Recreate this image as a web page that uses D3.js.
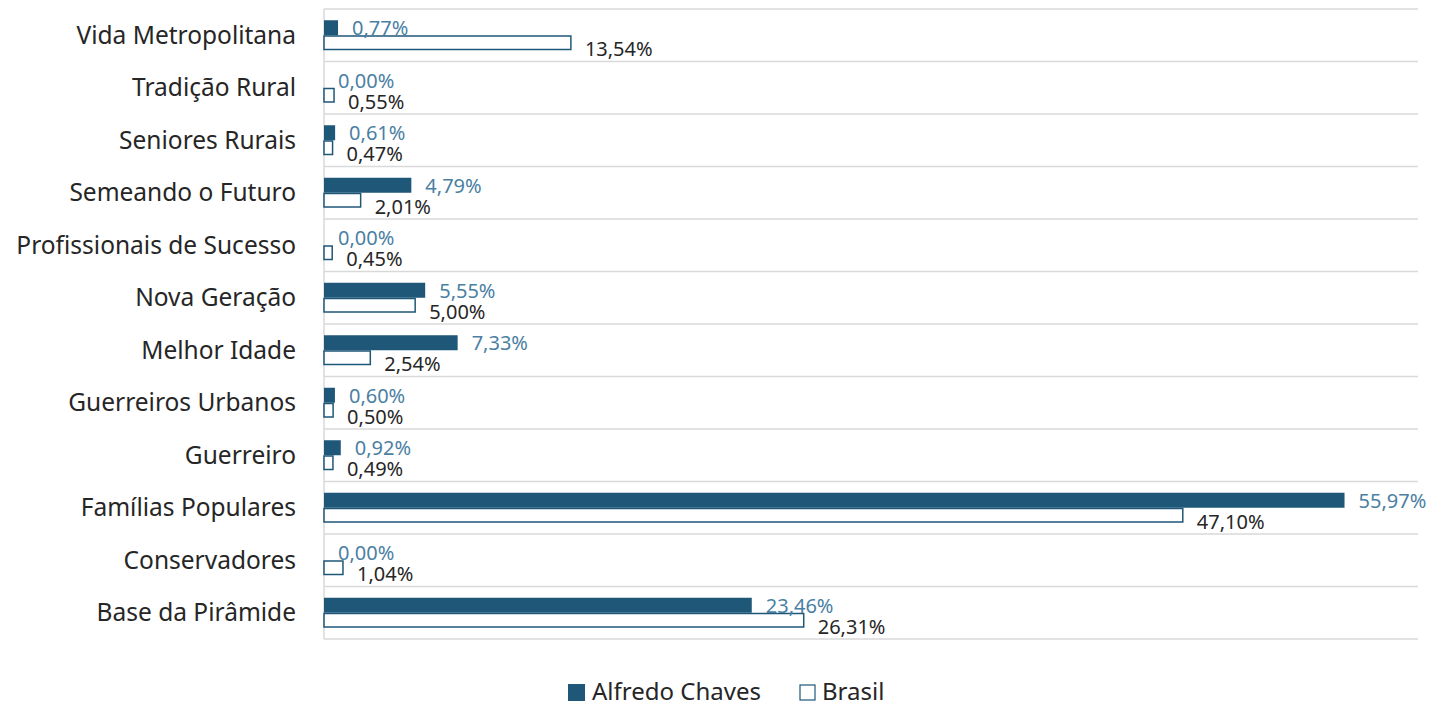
<!DOCTYPE html>
<html>
<head>
<meta charset="utf-8">
<script src="https://cdn.jsdelivr.net/npm/d3@7"></script>
<style>
  body { margin: 0; background: #fff; }
  text { font-family: "Noto Sans", "Open Sans", sans-serif; }
</style>
</head>
<body>
<script>
// categorias e valores (%)
const categorias = ["Vida Metropolitana", "Tradição Rural", "Seniores Rurais", "Semeando o Futuro",
  "Profissionais de Sucesso", "Nova Geração", "Melhor Idade", "Guerreiros Urbanos", "Guerreiro",
  "Famílias Populares", "Conservadores", "Base da Pirâmide"]
const alfredoChaves = [0.77, 0.00, 0.61, 4.79, 0.00, 5.55, 7.33, 0.60, 0.92, 55.97, 0.00, 23.46]
const brasil = [13.54, 0.55, 0.47, 2.01, 0.45, 5.00, 2.54, 0.50, 0.49, 47.10, 1.04, 26.31]
const series = ["Alfredo Chaves", "Brasil"]

const width = 1432
const height = 705
const margin = { top: 9, bottom: 66, left: 324, right: 14 }
const azul = "#1f5778"
const azulTexto = "#4b7fa3"

const fmt = v => v.toFixed(2).replace(".", ",") + "%"

const svg = d3.select("body").append("svg")
  .attr("width", width)
  .attr("height", height)

const x = d3.scaleLinear().domain([0, 60]).range([margin.left, width - margin.right])
const y = d3.scaleBand().domain(categorias).range([margin.top, height - margin.bottom])

// linhas de grade horizontais
const linhas = categorias.map(c => y(c)).concat([y.range()[1]])
svg.append("g").selectAll("line")
  .data(linhas)
  .enter().append("line")
  .attr("x1", margin.left).attr("x2", width - margin.right)
  .attr("y1", d => d).attr("y2", d => d)
  .attr("stroke", "#d9d9d9").attr("stroke-width", 1.5)

// eixo vertical
svg.append("line")
  .attr("x1", margin.left).attr("x2", margin.left)
  .attr("y1", margin.top).attr("y2", height - margin.bottom)
  .attr("stroke", "#d9d9d9").attr("stroke-width", 1.5)

// rótulos das categorias
svg.append("g").selectAll("text")
  .data(categorias)
  .enter().append("text")
  .attr("x", 296)
  .attr("y", d => y(d) + y.bandwidth() / 2)
  .attr("dy", "0.35em")
  .attr("text-anchor", "end")
  .attr("font-size", 24.5)
  .attr("fill", "#262626")
  .text(d => d)

const barH = 15
const meio = c => y(c) + y.bandwidth() / 2

// barras Alfredo Chaves (preenchidas)
svg.append("g").selectAll("rect")
  .data(categorias)
  .enter().append("rect")
  .attr("x", x(0))
  .attr("y", c => meio(c) - barH)
  .attr("width", (c, i) => x(alfredoChaves[i]) - x(0))
  .attr("height", barH)
  .attr("fill", azul)

// barras Brasil (contorno)
svg.append("g").selectAll("rect")
  .data(categorias)
  .enter().append("rect")
  .attr("x", x(0))
  .attr("y", c => meio(c) + 0.75)
  .attr("width", (c, i) => x(brasil[i]) - x(0))
  .attr("height", barH - 1.5)
  .attr("fill", "#fff")
  .attr("stroke", azul)
  .attr("stroke-width", 1.5)

// rótulos de dados
svg.append("g").selectAll("text")
  .data(categorias)
  .enter().append("text")
  .attr("x", (c, i) => x(alfredoChaves[i]) + 14)
  .attr("y", c => meio(c) - 7)
  .attr("dy", "0.35em")
  .attr("font-size", 20)
  .attr("fill", azulTexto)
  .text((c, i) => fmt(alfredoChaves[i]))

svg.append("g").selectAll("text")
  .data(categorias)
  .enter().append("text")
  .attr("x", (c, i) => x(brasil[i]) + 14)
  .attr("y", c => meio(c) + 14)
  .attr("dy", "0.35em")
  .attr("font-size", 20)
  .attr("fill", "#262626")
  .text((c, i) => fmt(brasil[i]))

// legenda
const leg = svg.append("g").attr("transform", "translate(568,692)")
leg.append("rect").attr("x", 0).attr("y", -8).attr("width", 17).attr("height", 17).attr("fill", azul)
leg.append("text").attr("x", 24).attr("y", 0).attr("dy", "0.35em").attr("font-size", 24).attr("fill", "#262626").text(series[0])
leg.append("rect").attr("x", 232).attr("y", -7).attr("width", 15).attr("height", 15)
  .attr("fill", "#fff").attr("stroke", azul).attr("stroke-width", 1.2)
leg.append("text").attr("x", 254).attr("y", 0).attr("dy", "0.35em").attr("font-size", 24).attr("fill", "#262626").text(series[1])
</script>
</body>
</html>
